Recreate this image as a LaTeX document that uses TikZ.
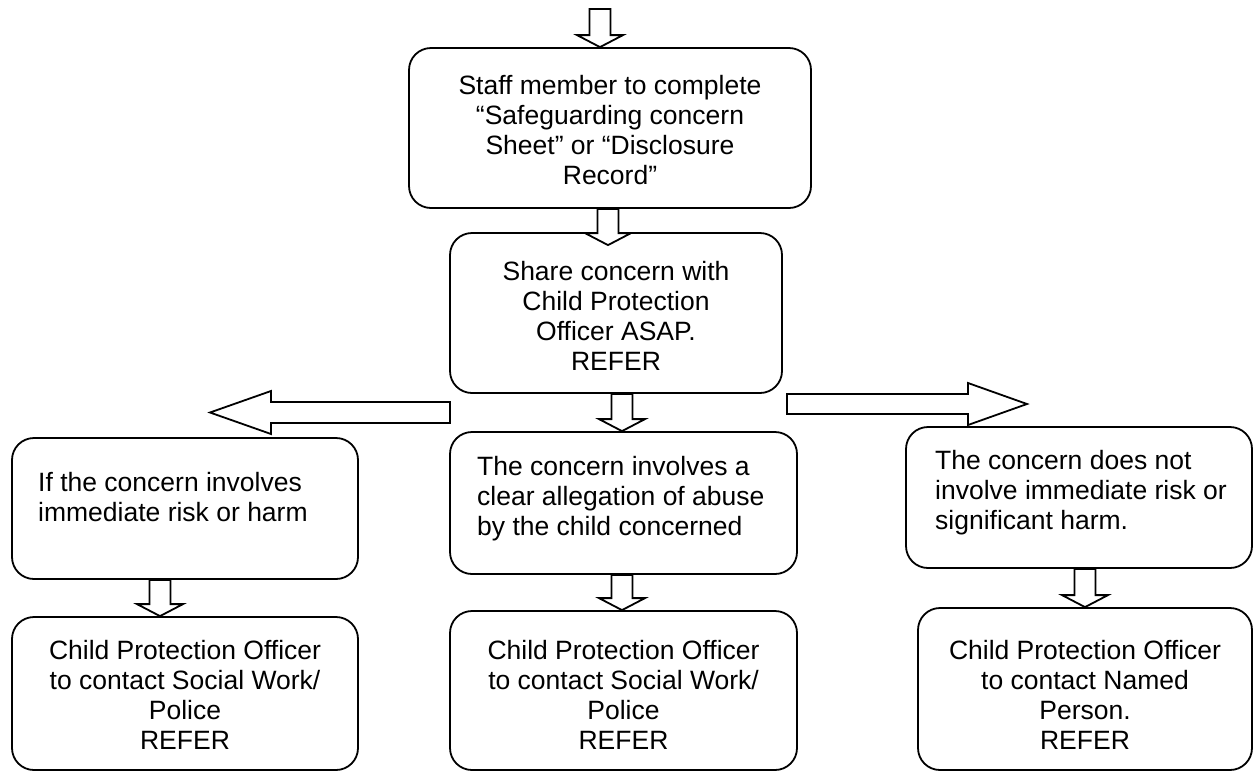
\documentclass[tikz,border=0pt]{standalone}
\usepackage{fontspec}
\setmainfont{Liberation Sans}
\usetikzlibrary{calc}
\tikzset{
  box/.style={draw=black, line width=1.8pt, rounded corners=22pt, fill=white, inner sep=0pt},
  barrow/.style={draw=black, line width=1.8pt, fill=white, line join=miter},
  txt/.style={inner sep=0pt, font=\fontsize{26.5}{30}\selectfont},
}
\newcommand\dnarrow[4]{%
  \draw[barrow] let \p1=(#2), \p2=(#3) in
  (#1pt-10.5pt,\y1) -- (#1pt-10.5pt,\y2-#4pt+12pt) -- (#1pt-23pt,\y2-#4pt+12pt)
  -- (#1pt,\y2-#4pt) -- (#1pt+23pt,\y2-#4pt+12pt) -- (#1pt+10.5pt,\y2-#4pt+12pt)
  -- (#1pt+10.5pt,\y1) -- cycle;}
\begin{document}
\begin{tikzpicture}[x=1pt,y=-1pt]
\useasboundingbox[fill=white] (0,0) rectangle (1255,772);
% boxes
\node[box, minimum width=402pt, minimum height=160pt] (b1) at (610,128) {};
\node[box, minimum width=332pt, minimum height=160pt] (b2) at (616,313) {};
\node[box, minimum width=346pt, minimum height=141pt] (bl) at (185,508.5) {};
\node[box, minimum width=347pt, minimum height=142pt] (bm) at (623.5,503) {};
\node[box, minimum width=346pt, minimum height=141pt] (br) at (1079,497.5) {};
\node[box, minimum width=346pt, minimum height=153pt] (cl) at (185,693.5) {};
\node[box, minimum width=347pt, minimum height=159pt] (cm) at (623.5,690.5) {};
\node[box, minimum width=334pt, minimum height=162pt] (cr) at (1085,689) {};
% texts
\node[txt, align=center] (t1) at (610,130) {Staff member to complete\\“Safeguarding concern\\Sheet” or “Disclosure\\Record”};
\node[txt, align=center] (t2) at (616,316) {Share concern with\\Child Protection\\Officer ASAP.\\REFER};
\node[txt, align=left, anchor=north west] (tl) at (38,472.5) {If the concern involves\\immediate risk or harm};
\node[txt, align=left, anchor=north west] (tm) at (477,456.5) {The concern involves a\\clear allegation of abuse\\by the child concerned};
\node[txt, align=left, anchor=north west] (tr) at (935,450.5) {The concern does not\\involve immediate risk or\\significant harm.};
\node[txt, align=center] (ul) at (185,695) {Child Protection Officer\\to contact Social Work/\\Police\\REFER};
\node[txt, align=center] (um) at (623.5,695) {Child Protection Officer\\to contact Social Work/\\Police\\REFER};
\node[txt, align=center] (ur) at (1085,695) {Child Protection Officer\\to contact Named\\Person.\\REFER};
% block arrows
\coordinate (in) at (600,9);
\dnarrow{600}{in}{b1.north}{0}
\dnarrow{608}{b1.south}{b2.north}{13}
\dnarrow{622}{b2.south}{bm.north}{0}
\dnarrow{160}{bl.south}{cl.north}{0}
\dnarrow{622}{bm.south}{cm.north}{0}
\dnarrow{1085}{br.south}{cr.north}{0}
\coordinate (lstart) at (450,412.5);
\coordinate (ltip) at (210,412.5);
\coordinate (rstart) at (787,404);
\coordinate (rtip) at (1027,404);
\draw[barrow] ($(lstart)+(0,-10.5)$) -- (271,402) -- (271,391) -- (ltip) -- (271,434) -- (271,423) -- ($(lstart)+(0,10.5)$) -- cycle;
\draw[barrow] ($(rstart)+(0,-10)$) -- (968,394) -- (968,383) -- (rtip) -- (968,425) -- (968,414) -- ($(rstart)+(0,10)$) -- cycle;
\end{tikzpicture}
\end{document}
